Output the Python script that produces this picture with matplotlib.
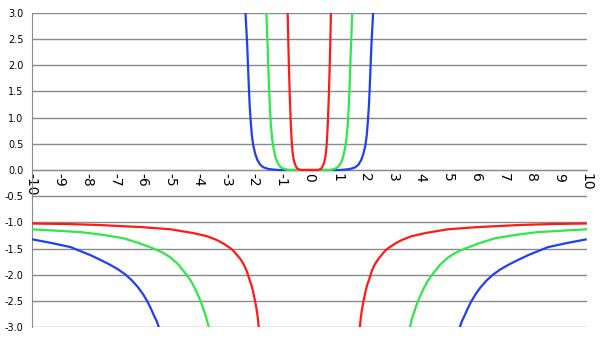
import numpy as np
import matplotlib
matplotlib.use("Agg")
import matplotlib.pyplot as plt

# values, one list per branch
# upper branches (flat near 0, then shooting up)
red_top_x = [-0.78, -0.755, -0.73, -0.70, -0.67, -0.64, -0.605, -0.57, -0.54, -0.50, -0.45, -0.40, -0.30, 0.0,
             0.30, 0.40, 0.45, 0.50, 0.54, 0.57, 0.605, 0.64, 0.67, 0.70, 0.73, 0.755, 0.78]
red_top_y = [3.0, 2.4, 1.88, 1.35, 0.92, 0.60, 0.35, 0.22, 0.15, 0.09, 0.04, 0.015, 0.0, 0.0,
             0.0, 0.015, 0.04, 0.09, 0.15, 0.22, 0.35, 0.60, 0.92, 1.35, 1.88, 2.4, 3.0]
green_top_x = [-1.545, -1.52, -1.49, -1.46, -1.425, -1.39, -1.34, -1.29, -1.22, -1.16, -1.10, -1.02, -0.90, -0.75, 0.0,
               0.75, 0.90, 1.02, 1.10, 1.16, 1.22, 1.29, 1.34, 1.39, 1.425, 1.46, 1.49, 1.52, 1.545]
green_top_y = [3.0, 2.6, 2.19, 1.7, 1.24, 0.90, 0.60, 0.42, 0.25, 0.16, 0.10, 0.05, 0.02, 0.0, 0.0,
               0.0, 0.02, 0.05, 0.10, 0.16, 0.25, 0.42, 0.60, 0.90, 1.24, 1.7, 2.19, 2.6, 3.0]
blue_top_x = [-2.30, -2.24, -2.18, -2.15, -2.11, -2.07, -2.02, -1.95, -1.87, -1.77, -1.65, -1.47, -1.30, -1.10, 0.0,
              1.10, 1.30, 1.47, 1.65, 1.77, 1.87, 1.95, 2.02, 2.07, 2.11, 2.15, 2.18, 2.24, 2.30]
blue_top_y = [3.0, 2.4, 1.6, 1.24, 0.92, 0.66, 0.47, 0.31, 0.19, 0.10, 0.05, 0.02, 0.008, 0.0, 0.0,
              0.0, 0.008, 0.02, 0.05, 0.10, 0.19, 0.31, 0.47, 0.66, 0.92, 1.24, 1.6, 2.4, 3.0]

# lower branches, left side (approach -1 far out)
red_l_x = [-10, -8.7, -7.5, -6, -5.0, -4.2, -3.7, -3.35, -3.1, -2.9, -2.75, -2.62, -2.48, -2.36, -2.25,
           -2.16, -2.08, -2.02, -1.95, -1.90, -1.86, -1.82]
red_l_y = [-1.02, -1.03, -1.05, -1.09, -1.13, -1.20, -1.26, -1.33, -1.40, -1.47, -1.53, -1.61, -1.70, -1.80, -1.93,
           -2.08, -2.2, -2.33, -2.51, -2.65, -2.8, -3.0]
green_l_x = [-10, -9, -8.2, -7.4, -6.7, -6.1, -5.65, -5.3, -5.02, -4.72, -4.48, -4.28, -4.12, -3.97, -3.84, -3.72, -3.62]
green_l_y = [-1.13, -1.16, -1.185, -1.24, -1.30, -1.40, -1.49, -1.57, -1.66, -1.80, -1.96, -2.10, -2.26, -2.43, -2.61, -2.8, -3.0]
blue_l_x = [-10, -9.3, -8.6, -7.9, -7.5, -7.2, -6.9, -6.63, -6.4, -6.18, -6.0, -5.83, -5.7, -5.6, -5.5, -5.42]
blue_l_y = [-1.32, -1.39, -1.47, -1.62, -1.72, -1.80, -1.89, -1.99, -2.10, -2.23, -2.36, -2.51, -2.65, -2.77, -2.88, -3.0]

# lower branches, right side
red_r_x = [1.82, 1.86, 1.90, 1.95, 2.02, 2.08, 2.16, 2.25, 2.36, 2.48, 2.62, 2.75, 2.9, 3.1, 3.35, 3.7, 4.2,
           5.0, 6, 7.5, 8.7, 10]
red_r_y = [-3.0, -2.8, -2.65, -2.51, -2.33, -2.2, -2.08, -1.93, -1.80, -1.70, -1.61, -1.53, -1.47, -1.40, -1.33, -1.26, -1.20,
           -1.13, -1.09, -1.05, -1.03, -1.02]
green_r_x = [3.62, 3.72, 3.84, 3.97, 4.12, 4.28, 4.48, 4.72, 5.02, 5.3, 5.65, 6.1, 6.7, 7.4, 8.2, 9, 10]
green_r_y = [-3.0, -2.8, -2.61, -2.43, -2.26, -2.10, -1.96, -1.80, -1.66, -1.57, -1.49, -1.40, -1.30, -1.24, -1.185, -1.16, -1.13]
blue_r_x = [5.42, 5.5, 5.6, 5.7, 5.83, 6.0, 6.18, 6.4, 6.63, 6.9, 7.2, 7.5, 7.9, 8.6, 9.3, 10]
blue_r_y = [-3.0, -2.88, -2.77, -2.65, -2.51, -2.36, -2.23, -2.10, -1.99, -1.89, -1.80, -1.72, -1.62, -1.47, -1.39, -1.32]

x_ticks = list(range(-10, 11))

RED = '#ff1a1a'
GREEN = '#2ee84a'
BLUE = '#2040ee'

fig = plt.figure(figsize=(6, 3.4), dpi=100)
ax = fig.add_axes([0.053, 0.037, 0.925, 0.926])

lw = 1.6
for xs, ys, c in [(blue_top_x, blue_top_y, BLUE), (green_top_x, green_top_y, GREEN),
                  (red_top_x, red_top_y, RED),
                  (blue_l_x, blue_l_y, BLUE), (green_l_x, green_l_y, GREEN), (red_l_x, red_l_y, RED),
                  (blue_r_x, blue_r_y, BLUE), (green_r_x, green_r_y, GREEN), (red_r_x, red_r_y, RED)]:
    ax.plot(xs, ys, color=c, lw=lw, solid_joinstyle='round', solid_capstyle='butt', zorder=3)

ax.set_xlim(-10, 10)
ax.set_ylim(-3, 3)
yt = np.arange(-3, 3.01, 0.5)
ax.set_yticks(yt)
ax.set_yticklabels(['%.1f' % v for v in yt], fontsize=7)
ax.set_xticks(x_ticks)
ax.set_xticklabels([str(v) for v in x_ticks], fontsize=7)
ax.tick_params(axis='both', length=0)
ax.tick_params(axis='x', pad=2, labelrotation=270)
ax.tick_params(axis='y', pad=6)

ax.yaxis.grid(True, color='#8a8a8a', lw=1)
ax.set_axisbelow(True)

for s in ['top', 'right']:
    ax.spines[s].set_visible(False)
ax.spines['bottom'].set_position(('data', 0))
ax.spines['bottom'].set_color('#8a8a8a')
ax.spines['left'].set_color('#8a8a8a')

fig.savefig('out.png', dpi=100)
